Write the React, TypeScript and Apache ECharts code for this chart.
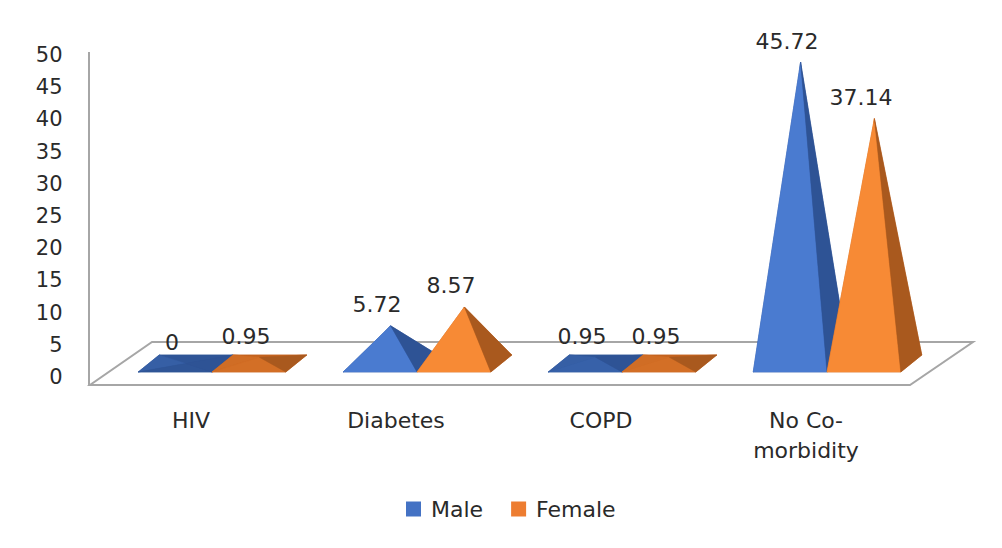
import React, { useEffect, useRef } from 'react';
import * as echarts from 'echarts';

// data
const categories = ['HIV', 'Diabetes', 'COPD', 'No Co-morbidity'];
const seriesNames = ['Male', 'Female'];
const maleValues = [0, 5.72, 0.95, 45.72];
const femaleValues = [0.95, 8.57, 0.95, 37.14];
const yMin = 0;
const yMax = 50;
const yStep = 5;

// 3d look
const DX = 21; // depth offset of the pyramid base
const DY = 17;
const WIDTH_RATIO = 0.36;
const FONT = 'DejaVu Sans';
const TEXT = '#2a2a2a';
const FLOOR = '#A6A6A6';

const palettes = {
  Male: { legend: '#4472C4', front: '#4A7BD0', side: '#2E5395', flat: '#2F5597' },
  Female: { legend: '#ED7D31', front: '#F78A35', side: '#A9591E', flat: '#C3631F' },
};

const mix = (a: string, b: string, t: number) => {
  const pa = [1, 3, 5].map(i => parseInt(a.slice(i, i + 2), 16));
  const pb = [1, 3, 5].map(i => parseInt(b.slice(i, i + 2), 16));
  const c = pa.map((v, i) => Math.round(v + (pb[i] - v) * t));
  return `rgb(${c[0]},${c[1]},${c[2]})`;
};

const poly = (points: number[][], fill: string) => ({
  type: 'polygon',
  shape: { points },
  style: { fill, stroke: fill, lineWidth: 0.5 },
});

const makePyramid = (side: number, pal: typeof palettes.Male) => (params: any, api: any) => {
  const idx = api.value(0);
  const val = api.value(1);
  const base = api.coord([idx, 0]);
  const top = api.coord([idx, val]);
  const band = api.size([1, 0])[0];
  const w = band * WIDTH_RATIO;
  const cx = base[0] + (side * w) / 2;
  const y0 = base[1];
  const FL = [cx - w / 2, y0];
  const FR = [cx + w / 2, y0];
  const BR = [FR[0] + DX, y0 - DY];
  const BL = [FL[0] + DX, y0 - DY];
  const A = [cx + DX / 2, top[1] - DY / 2];
  const h = y0 - top[1];
  const t = Math.max(0, Math.min(1, h / 20));
  return {
    type: 'group',
    children: [
      poly([FL, FR, BR, BL], pal.flat),
      poly([BL, BR, A], pal.flat),
      poly([FL, BL, A], mix(pal.flat, pal.front, 0.25)),
      poly([FL, FR, A], mix(pal.flat, pal.front, t)),
      poly([FR, BR, A], pal.side),
      {
        type: 'text',
        x: cx - 3,
        y: A[1] - 21,
        style: {
          text: String(val),
          fill: TEXT,
          fontSize: 22,
          fontFamily: FONT,
          align: 'center',
          verticalAlign: 'middle',
        },
      },
    ],
  };
};

const App: React.FC = () => {
  const chartRef = useRef<HTMLDivElement>(null);

  useEffect(() => {
    if (!chartRef.current) return;
    const chart = echarts.init(chartRef.current, undefined, { renderer: 'svg' });

    const option = {
      animation: false,
      backgroundColor: '#ffffff',
      textStyle: { fontFamily: FONT },
      legend: {
        data: seriesNames,
        left: 406,
        top: 498,
        padding: 0,
        icon: 'rect',
        itemWidth: 15,
        itemHeight: 15,
        itemGap: 28,
        textStyle: { fontSize: 22, fontFamily: FONT, color: TEXT, padding: [0, 0, 0, 5] },
      },
      grid: [
        // axis labels
        { left: 88.5, right: 93.5, top: 55, bottom: 171 },
        // pyramids
        { left: 109.5, right: 72.5, top: 42.3, bottom: 176 },
      ],
      xAxis: [
        {
          type: 'category',
          gridIndex: 0,
          data: categories,
          axisLine: { show: false },
          axisTick: { show: false },
          axisLabel: {
            interval: 0,
            margin: 28,
            fontSize: 22,
            lineHeight: 30,
            color: TEXT,
            fontFamily: FONT,
            formatter: (v: string) => v.replace('Co-', 'Co-\n'),
          },
        },
        { type: 'category', gridIndex: 1, data: categories, show: false },
      ],
      yAxis: [
        {
          type: 'value',
          gridIndex: 0,
          min: yMin,
          max: yMax,
          interval: yStep,
          axisLine: { show: false },
          axisTick: { show: false },
          splitLine: { show: false },
          axisLabel: { margin: 26, fontSize: 21, color: TEXT, fontFamily: FONT },
        },
        { type: 'value', gridIndex: 1, min: yMin, max: yMax, show: false, splitLine: { show: false } },
      ],
      graphic: [
        {
          type: 'polygon',
          z: 0,
          shape: { points: [[90, 385], [910, 385], [973, 342], [152, 342]] },
          style: { fill: '#ffffff', stroke: FLOOR, lineWidth: 2 },
        },
        {
          type: 'line',
          z: 0,
          shape: { x1: 89, y1: 52, x2: 89, y2: 385 },
          style: { stroke: FLOOR, lineWidth: 2 },
        },
      ],
      series: [
        {
          name: 'Male',
          type: 'custom',
          xAxisIndex: 1,
          yAxisIndex: 1,
          itemStyle: { color: palettes.Male.legend },
          renderItem: makePyramid(-1, palettes.Male),
          data: maleValues.map((v, i) => [i, v]),
        },
        {
          name: 'Female',
          type: 'custom',
          xAxisIndex: 1,
          yAxisIndex: 1,
          itemStyle: { color: palettes.Female.legend },
          renderItem: makePyramid(1, palettes.Female),
          data: femaleValues.map((v, i) => [i, v]),
        },
      ],
    };

    chart.setOption(option);

    return () => {
      chart.dispose();
    };
  }, []);

  return (
    <div
      ref={chartRef}
      style={{ position: 'fixed', left: 0, top: 0, width: 1002, height: 548 }}
    />
  );
};

export default App;
